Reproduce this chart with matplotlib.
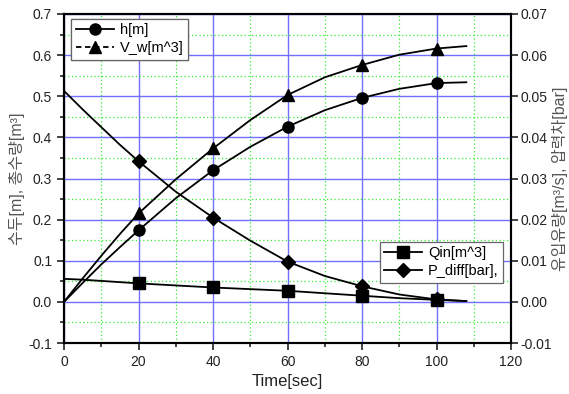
import matplotlib
matplotlib.use('Agg')
import matplotlib.pyplot as plt
from matplotlib.lines import Line2D
from matplotlib.ticker import MultipleLocator, FormatStrFormatter, NullLocator

plt.rcParams['font.family'] = ['Liberation Sans', 'Noto Sans CJK KR', 'DejaVu Sans']

# measured points (markers)
t_pts = [20, 40, 60, 80, 100]
h_pts = [0.174, 0.320, 0.426, 0.496, 0.532]
vw_pts = [0.215, 0.373, 0.503, 0.576, 0.616]
qin_pts = [0.0045, 0.0035, 0.0027, 0.0015, 0.0005]
pdiff_pts = [0.0342, 0.0205, 0.0098, 0.0038, 0.0006]

# fitted curves
t_line = [0, 5, 10, 15, 20, 30, 40, 50, 60, 70, 80, 90, 100, 108]
h_line = [0.0, 0.046, 0.091, 0.133, 0.174, 0.252, 0.320, 0.377, 0.426, 0.466, 0.496, 0.518, 0.532, 0.534]
vw_line = [0.0, 0.057, 0.112, 0.165, 0.215, 0.298, 0.373, 0.442, 0.503, 0.546, 0.576, 0.601, 0.616, 0.622]
qin_line = [0.0056, 0.0054, 0.0051, 0.0048, 0.0045, 0.0040, 0.0035, 0.0031, 0.0027, 0.0021, 0.0015, 0.0009, 0.0005, 0.0002]
pdiff_line = [0.0513, 0.0468, 0.0425, 0.0382, 0.0342, 0.0268, 0.0205, 0.0149, 0.0098, 0.0063, 0.0038, 0.0018, 0.0006, 0.0002]

fig = plt.figure(figsize=(5.69, 3.94), dpi=100)
ax = fig.add_axes([0.1125, 0.1294, 0.7856, 0.8351])
ax2 = ax.twinx()

ax.set_xlim(0, 120)
ax.set_ylim(-0.1, 0.7)
ax2.set_ylim(-0.01, 0.07)

ax.xaxis.set_major_locator(MultipleLocator(20))
ax.xaxis.set_minor_locator(MultipleLocator(10))
ax.yaxis.set_major_locator(MultipleLocator(0.1))
ax.yaxis.set_minor_locator(MultipleLocator(0.05))
ax2.yaxis.set_major_locator(MultipleLocator(0.01))
ax2.yaxis.set_minor_locator(NullLocator())
ax.yaxis.set_major_formatter(FormatStrFormatter('%.1f'))
ax2.yaxis.set_major_formatter(FormatStrFormatter('%.2f'))

ax.grid(which='major', color='#7070ff', linestyle='-', linewidth=1.0)
ax.grid(which='minor', color='#33ee33', linestyle=(0, (1, 2)), linewidth=0.9)
ax.set_axisbelow(True)

lc = 'black'
ax.plot(t_line, h_line, color=lc, lw=1.3)
ax.plot(t_pts, h_pts, 'o', color=lc, ms=8)
ax.plot(t_line, vw_line, color=lc, lw=1.3)
ax.plot(t_pts, vw_pts, '^', color=lc, ms=8)
ax2.plot(t_line, qin_line, color=lc, lw=1.3)
ax2.plot(t_pts, qin_pts, 's', color=lc, ms=8)
ax2.plot(t_line, pdiff_line, color=lc, lw=1.3)
ax2.plot(t_pts, pdiff_pts, 'D', color=lc, ms=7)

for a in (ax, ax2):
    for s in a.spines.values():
        s.set_linewidth(1.5)
    a.tick_params(which='both', direction='out', width=1.2, labelsize=10, colors='#222222')
    a.tick_params(which='major', length=5)
    a.tick_params(which='minor', length=3)

ax.tick_params(top=False, right=False)
ax2.tick_params(left=False, labelleft=False, pad=2)

ax.set_xlabel('Time[sec]', fontsize=12, color='#222222')
ax.set_ylabel('수두[m], 총수량[m³]', fontsize=11.5, color='#555555')
ax2.set_ylabel('유입유량[m³/s], 압력차[bar]', fontsize=11.5, color='#555555')
ax.yaxis.set_label_coords(-0.088, 0.5)
ax2.yaxis.set_label_coords(1.091, 0.5)

h1 = [Line2D([], [], color=lc, marker='o', ms=8, lw=1.3),
      Line2D([], [], color=lc, marker='^', ms=8, lw=1.3, linestyle=(0, (3, 2)))]
leg1 = ax.legend(h1, ['h[m]', 'V_w[m^3]'], loc='upper left', bbox_to_anchor=(0.01, 0.995),
                 fontsize=10.5, fancybox=False, edgecolor='#666666', framealpha=1,
                 borderaxespad=0.2, handlelength=2.6, handletextpad=0.4,
                 borderpad=0.3, labelspacing=0.3)
leg1.get_frame().set_linewidth(0.9)
ax.add_artist(leg1)

h2 = [Line2D([], [], color=lc, marker='s', ms=8, lw=1.3),
      Line2D([], [], color=lc, marker='D', ms=7, lw=1.3)]
leg2 = ax2.legend(h2, ['Qin[m^3]', 'P_diff[bar],'], loc='upper left',
                  bbox_to_anchor=(0.69, 0.33), fontsize=10.5, fancybox=False,
                  edgecolor='#666666', framealpha=1, handlelength=2.6,
                  handletextpad=0.4, borderpad=0.3, labelspacing=0.3)
leg2.get_frame().set_linewidth(0.9)

fig.savefig('out.png', dpi=100)
